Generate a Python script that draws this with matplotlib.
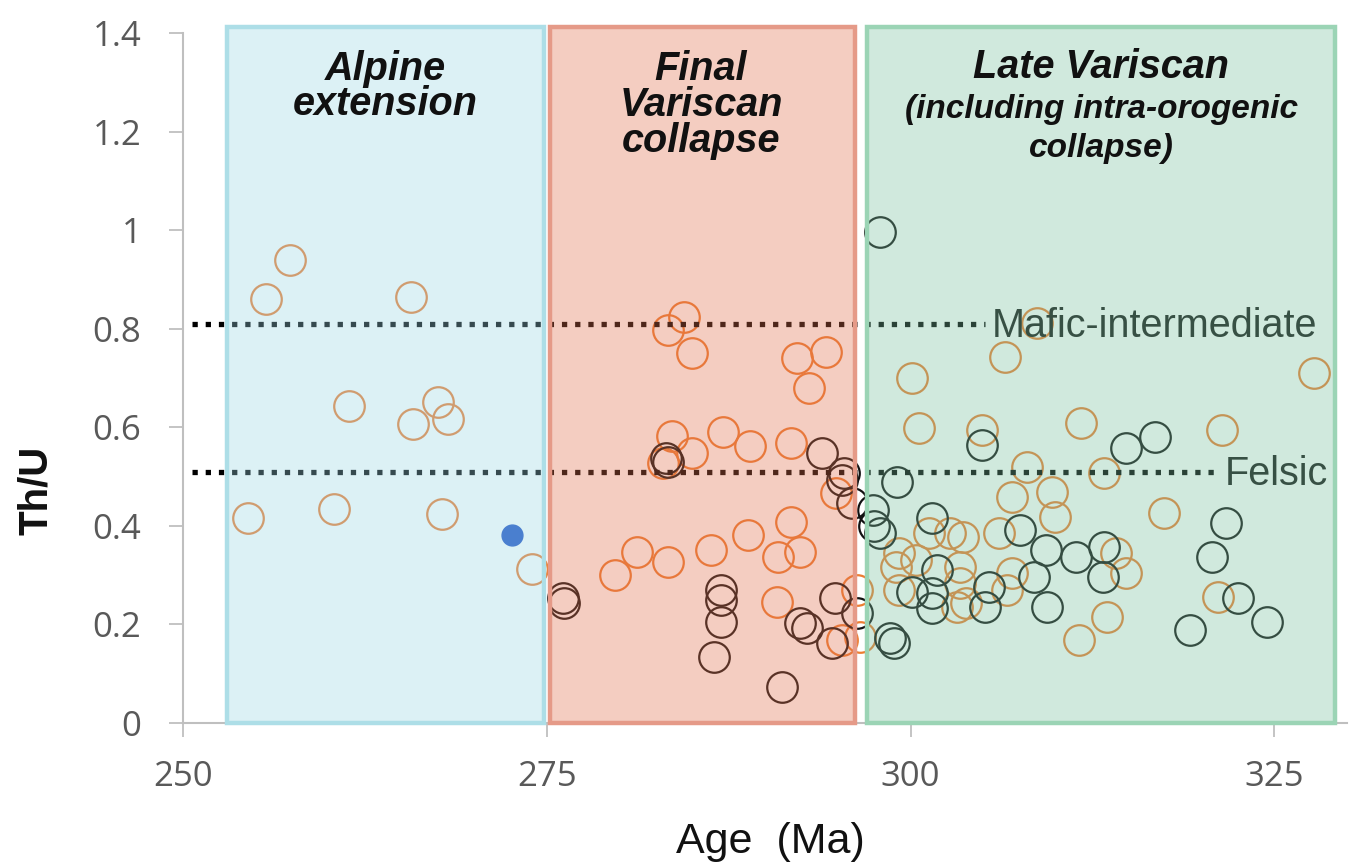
import matplotlib
matplotlib.use("Agg")
import matplotlib.pyplot as plt
from matplotlib.patches import Rectangle

# ---------------- data ----------------
orange_age = [257.35, 255.7, 265.7, 261.4, 267.5, 265.8, 268.2, 254.5, 260.4, 267.8, 274.0,
              283.3, 284.4, 285.0, 292.2, 294.2, 293.0, 283.6, 285.0, 287.1, 289.0, 291.8, 283.0,
              294.9, 279.7, 281.2, 283.3, 286.3, 288.8, 291.8, 292.4, 290.9, 290.8, 295.3, 296.3,
              308.7, 306.5, 300.1, 327.7, 300.6, 304.9, 311.7, 321.4, 308.0, 313.3, 307.0, 309.7,
              309.9, 317.4, 301.3, 302.7, 303.6, 306.1, 299.2, 300.4, 299.0, 303.4, 303.4, 306.6,
              307.0, 314.1, 314.8, 303.8, 303.2, 313.5, 311.6, 321.1, 299.2, 296.5]
orange_thu = [0.94, 0.86, 0.864, 0.643, 0.651, 0.606, 0.617, 0.416, 0.434, 0.424, 0.312,
              0.797, 0.824, 0.75, 0.74, 0.753, 0.68, 0.582, 0.548, 0.59, 0.562, 0.568, 0.527,
              0.467, 0.30, 0.347, 0.327, 0.351, 0.381, 0.408, 0.347, 0.337, 0.245, 0.168, 0.27,
              0.811, 0.742, 0.70, 0.71, 0.598, 0.594, 0.608, 0.594, 0.519, 0.507, 0.458, 0.469,
              0.418, 0.426, 0.385, 0.385, 0.377, 0.385, 0.345, 0.33, 0.316, 0.316, 0.284, 0.27,
              0.304, 0.345, 0.304, 0.243, 0.235, 0.215, 0.168, 0.256, 0.27, 0.174]

dark_age = [276.1, 276.2, 283.3, 283.2, 293.9, 295.4, 295.3, 296.0, 297.4, 297.9, 297.5,
            287.0, 287.0, 287.0, 286.5, 291.2, 292.4, 292.9, 294.8, 296.3, 294.6, 298.9,
            297.9, 304.9, 314.8, 316.8, 299.1, 321.7, 320.7, 322.5, 324.5, 319.2, 301.5,
            307.5, 309.3, 311.4, 313.3, 313.2, 301.8, 300.1, 301.5, 301.5, 305.4, 305.1,
            308.5, 309.4, 298.6]
dark_thu = [0.254, 0.243, 0.53, 0.537, 0.548, 0.507, 0.493, 0.446, 0.432, 0.385, 0.40,
            0.27, 0.25, 0.205, 0.134, 0.073, 0.203, 0.193, 0.254, 0.223, 0.162, 0.162,
            0.996, 0.564, 0.558, 0.58, 0.489, 0.406, 0.337, 0.254, 0.205, 0.189, 0.416,
            0.391, 0.351, 0.337, 0.357, 0.296, 0.31, 0.266, 0.264, 0.233, 0.276, 0.235,
            0.296, 0.235, 0.172]

blue_age = [272.6]
blue_thu = [0.381]

# periods (Ma) and titles
period_start = [253.0, 275.2, 297.0]
period_end = [274.8, 296.2, 329.2]
thresholds = [0.81, 0.51]
threshold_end = [305.1, 321.1]
threshold_labels = ["Mafic-intermediate", "Felsic"]

x_ticks = [250, 275, 300, 325]
y_ticks = [0, 0.2, 0.4, 0.6, 0.8, 1.0, 1.2, 1.4]
y_ticklabels = ["0", "0.2", "0.4", "0.6", "0.8", "1", "1.2", "1.4"]

# ---------------- figure ----------------
fig = plt.figure(figsize=(13.51, 8.64), dpi=100)
ax = fig.add_axes([183 / 1351, 141 / 864, (1347 - 183) / 1351, (831 - 141) / 864])
ax.set_xlim(250, 330)
ax.set_ylim(0, 1.4)

ax.plot(orange_age, orange_thu, linestyle="none", marker="o", markersize=22,
        markerfacecolor="none", markeredgecolor="#ED7D31", markeredgewidth=1.6, zorder=2)
ax.plot(dark_age, dark_thu, linestyle="none", marker="o", markersize=22,
        markerfacecolor="none", markeredgecolor="#111111", markeredgewidth=1.6, zorder=2.5)

# threshold dotted lines + labels (under overlay)
for yv, xe, lab in zip(thresholds, threshold_end, threshold_labels):
    ax.plot([250.6, xe], [yv, yv], color="black", linewidth=3.8,
            linestyle=(0, (1, 1.5)), zorder=3)
    ax.text(xe + 0.5, yv - 0.027, lab, fontsize=28.5, family="Liberation Sans",
            color="#151515", va="baseline", ha="left", zorder=3)

# translucent period overlays
faces = [(155/255, 215/255, 229/255, 0.35), (224/255, 112/255, 78/255, 0.35),
         (121/255, 192/255, 158/255, 0.35)]
edges = ["#addee7", "#e59a88", "#9bd4b5"]
for x0, x1, fc, ec in zip(period_start, period_end, faces, edges):
    r = Rectangle((x0, 0), x1 - x0, 1.412, facecolor=fc, edgecolor=ec,
                  linewidth=3.2, zorder=4, clip_on=False)
    ax.add_patch(r)

# blue point on top
ax.plot(blue_age, blue_thu, linestyle="none", marker="o", markersize=15,
        markerfacecolor="#4A7FCF", markeredgecolor="#4A7FCF", zorder=6)

# titles (pixel baselines converted to data)
def ypx(p):
    return (723 - p) / 493.0

tkw = dict(family="Liberation Sans", fontweight="bold", fontstyle="italic",
           color="#111111", ha="center", va="baseline", zorder=7)
ax.text(263.9, ypx(80), "Alpine", fontsize=28.5, **tkw)
ax.text(263.9, ypx(115), "extension", fontsize=28.5, **tkw)
ax.text(285.6, ypx(80), "Final", fontsize=28.5, **tkw)
ax.text(285.6, ypx(116), "Variscan", fontsize=28.5, **tkw)
ax.text(285.6, ypx(152), "collapse", fontsize=28.5, **tkw)
ax.text(313.1, ypx(78), "Late Variscan", fontsize=28.5, **tkw)
ax.text(313.1, ypx(118), "(including intra-orogenic", fontsize=24, **tkw)
ax.text(313.1, ypx(157), "collapse)", fontsize=24, **tkw)

# axes styling
for s in ["top", "right"]:
    ax.spines[s].set_visible(False)
for s in ["left", "bottom"]:
    ax.spines[s].set_color("#bfbfbf")
    ax.spines[s].set_linewidth(1.5)
    ax.spines[s].set_zorder(1)

ax.set_xticks(x_ticks)
ax.set_xticklabels([str(v) for v in x_ticks])
ax.set_yticks(y_ticks)
ax.set_yticklabels(y_ticklabels)
ax.tick_params(axis="both", direction="out", length=10, width=1.3, color="#bfbfbf",
               labelcolor="#595959", labelsize=25)
ax.tick_params(axis="y", pad=20)
ax.tick_params(axis="x", pad=17)
for lab in ax.get_xticklabels() + ax.get_yticklabels():
    lab.set_family("Open Sans")

fig.text(770 / 1351, 1 - 853 / 864, "Age  (Ma)", fontsize=31, family="Liberation Sans",
         color="#111111", ha="center", va="baseline")
fig.text(36 / 1351, 1 - 490 / 864, "Th/U", fontsize=29, family="Liberation Sans",
         fontweight="bold", color="#111111", ha="center", va="center", rotation=90)

fig.savefig("out.png", dpi=100)
